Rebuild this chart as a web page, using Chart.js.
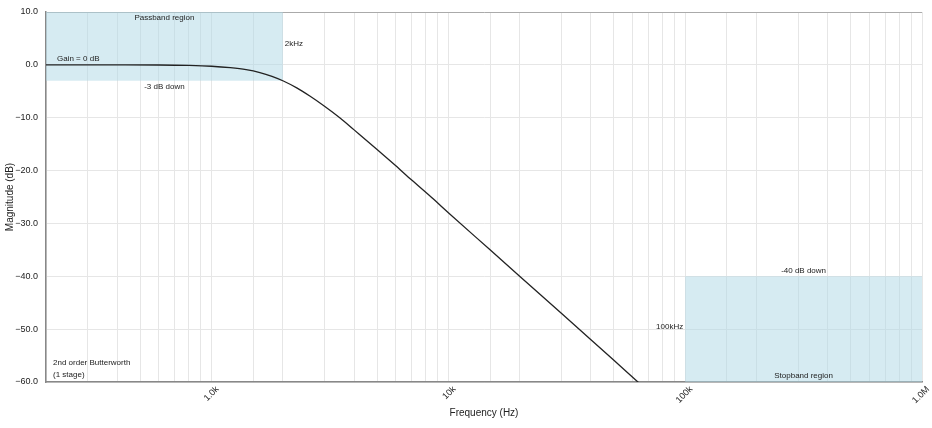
<!DOCTYPE html>
<html>
<head>
<meta charset="utf-8">
<script src="https://cdn.jsdelivr.net/npm/chart.js@4.4.1/dist/chart.umd.min.js"></script>
<style>
  body { margin: 0; background: #fff; }
  #wrap { width: 932px; height: 428px; }
</style>
</head>
<body>
<div id="wrap"><canvas id="grafica" width="932" height="428"></canvas></div>
<script>
// Respuesta (Hz, dB)
const freqHz = [200, 400, 600, 800, 1000, 1200, 1400, 1600, 1800, 2000, 2300, 2600, 3000, 3500, 4000, 5000, 6000, 7000, 8500, 10000, 15000, 20000, 30000, 40000, 50000, 60000, 70000];
const gainDb = [0.0, -0.01, -0.03, -0.11, -0.26, -0.53, -0.9, -1.45, -2.17, -3.01, -4.4, -5.9, -7.83, -10.1, -12.3, -16.0, -19.1, -21.8, -25.1, -27.96, -35.0, -40.0, -47.0, -52.0, -55.9, -59.1, -61.8];

// Ejes
const xMin = 200, xMax = 1000000;
const yMin = -60, yMax = 10, yStep = 10;
const xTickValues = [1000, 10000, 100000, 1000000];
const xTickLabels = ['1.0k', '10k', '100k', '1.0M'];

// Regiones (x1, x2, y1, y2)
const passband = [200, 2000, -3, 10];
const stopband = [100000, 1000000, -60, -40];

const textos = {
    passband: 'Passband region',
    gain: 'Gain = 0 dB',
    down3: '-3 dB down',
    corner: '2kHz',
    down40: '-40 dB down',
    stopFreq: '100kHz',
    stopband: 'Stopband region',
    filtro1: '2nd order Butterworth',
    filtro2: '(1 stage)'
};

const fuente = '"Liberation Sans", Arial, sans-serif';

// Plugin para las regiones y las notas
const regiones = {
    id: 'regiones',
    beforeDatasetsDraw(chart) {
        const {ctx, scales: {x, y}} = chart;
        ctx.save();
        ctx.fillStyle = 'rgba(173, 216, 230, 0.5)';
        [passband, stopband].forEach(r => {
            const x1 = x.getPixelForValue(r[0]), x2 = x.getPixelForValue(r[1]);
            const y1 = y.getPixelForValue(r[3]), y2 = y.getPixelForValue(r[2]);
            ctx.fillRect(x1, y1, x2 - x1, y2 - y1);
        });
        ctx.restore();
    },
    afterDatasetsDraw(chart) {
        const {ctx, scales: {x, y}, chartArea} = chart;
        ctx.save();
        ctx.font = '8px ' + fuente;
        ctx.fillStyle = '#222';

        const pbMid = (x.getPixelForValue(passband[0]) + x.getPixelForValue(passband[1])) / 2;
        const sbMid = (x.getPixelForValue(stopband[0]) + x.getPixelForValue(stopband[1])) / 2;

        ctx.textAlign = 'center';
        ctx.textBaseline = 'top';
        ctx.fillText(textos.passband, pbMid, y.getPixelForValue(passband[3]) + 2);
        ctx.fillText(textos.down3, pbMid, y.getPixelForValue(passband[2]) + 2);

        ctx.textBaseline = 'bottom';
        ctx.fillText(textos.down40, sbMid, y.getPixelForValue(stopband[3]) - 1);
        ctx.fillText(textos.stopband, sbMid, y.getPixelForValue(stopband[2]) - 2);

        ctx.textAlign = 'left';
        ctx.fillText(textos.gain, chartArea.left + 11, y.getPixelForValue(0) - 2);

        ctx.textBaseline = 'middle';
        ctx.fillText(textos.corner, x.getPixelForValue(passband[1]) + 2, y.getPixelForValue(4));
        ctx.fillText(textos.filtro1, chartArea.left + 7, y.getPixelForValue(-56.4));
        ctx.fillText(textos.filtro2, chartArea.left + 7, y.getPixelForValue(-58.7));

        ctx.textAlign = 'right';
        ctx.fillText(textos.stopFreq, x.getPixelForValue(stopband[0]) - 2, y.getPixelForValue(-49.6));
        ctx.restore();
    }
};

const grafica = document.getElementById('grafica').getContext('2d');
const chart = new Chart(grafica, {
    type: 'line',
    data: {
        datasets: [{
            label: 'Magnitude',
            data: freqHz.map((f, i) => ({x: f, y: gainDb[i]})),
            borderColor: '#222',
            borderWidth: 1.3,
            pointRadius: 0,
            fill: false,
            cubicInterpolationMode: 'monotone'
        }]
    },
    options: {
        responsive: false,
        animation: false,
        layout: {padding: {top: 12, right: 10, left: 0, bottom: 0}},
        plugins: {
            legend: {display: false},
            tooltip: {enabled: false}
        },
        scales: {
            x: {
                type: 'logarithmic',
                min: xMin,
                max: xMax,
                grid: {color: '#e6e6e6', drawTicks: false},
                border: {color: '#888', width: 1.5},
                ticks: {
                    autoSkip: false,
                    minRotation: 45,
                    maxRotation: 45,
                    padding: 2,
                    labelOffset: 6,
                    color: '#222',
                    font: {size: 9, family: fuente},
                    callback: (v) => {
                        const i = xTickValues.indexOf(v);
                        return i >= 0 ? xTickLabels[i] : '';
                    }
                },
                title: {
                    display: true,
                    text: 'Frequency (Hz)',
                    color: '#222',
                    font: {size: 10, family: fuente},
                    padding: {top: 0, bottom: 9}
                },
                afterFit: (s) => { s.height = 46; s.paddingLeft = 0; s.paddingRight = 0; }
            },
            y: {
                min: yMin,
                max: yMax,
                grid: {
                    drawTicks: false,
                    color: (c) => c.tick && c.tick.value === yMax ? '#aaa' : '#e6e6e6'
                },
                border: {color: '#888', width: 1.5},
                ticks: {
                    stepSize: yStep,
                    padding: 8,
                    color: '#222',
                    font: {size: 9, family: fuente},
                    callback: (v) => v.toFixed(1).replace('-', '\u2212')
                },
                title: {
                    display: true,
                    text: 'Magnitude (dB)',
                    color: '#222',
                    font: {size: 10, family: fuente},
                    padding: {top: 4, bottom: 0}
                },
                afterFit: (s) => { s.width = 46; s.paddingTop = 0; s.paddingBottom = 0; }
            }
        }
    },
    plugins: [regiones]
});
</script>
</body>
</html>
